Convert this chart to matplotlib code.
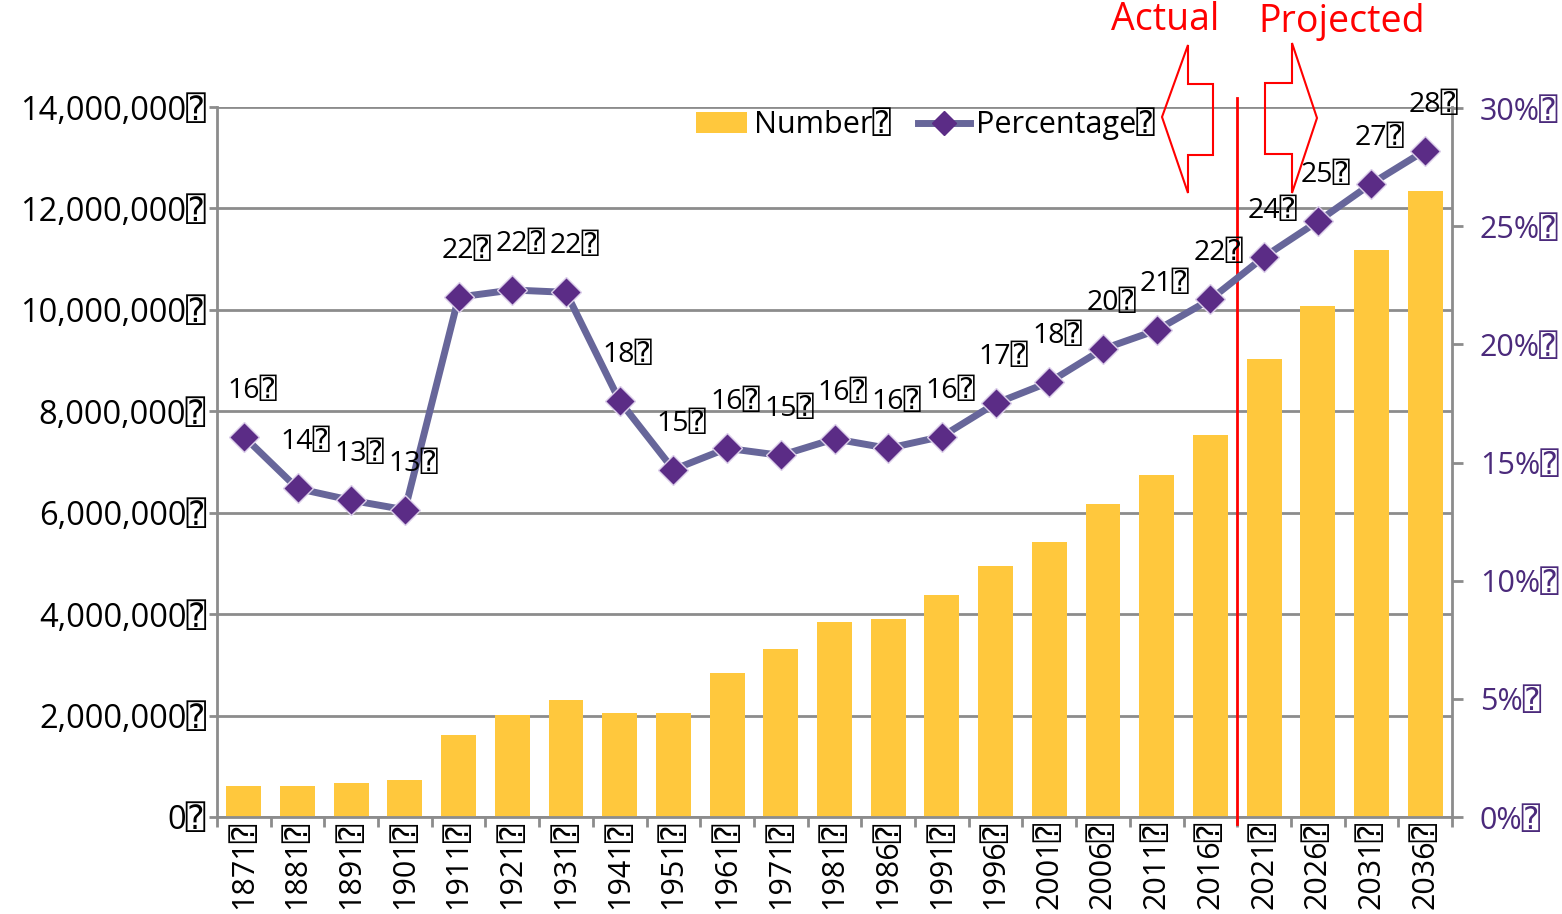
import matplotlib.pyplot as plt
import numpy as np
from matplotlib.lines import Line2D
from matplotlib.patches import Patch, Polygon

plt.rcParams['font.family'] = ['Open Sans', 'DejaVu Sans', 'DejaVu Sans Mono']

BOX = '\u2370'

years = ['1871', '1881', '1891', '1901', '1911', '1921', '1931', '1941', '1951',
         '1961', '1971', '1981', '1986', '1991', '1996', '2001', '2006', '2011',
         '2016', '2021', '2026', '2031', '2036']
numbers = [0.61e6, 0.61e6, 0.67e6, 0.73e6, 1.62e6, 2.01e6, 2.31e6, 2.05e6, 2.05e6,
           2.84e6, 3.31e6, 3.85e6, 3.90e6, 4.38e6, 4.95e6, 5.42e6, 6.17e6, 6.74e6,
           7.53e6, 9.03e6, 10.08e6, 11.18e6, 12.34e6]
percentages = [16.1, 13.9, 13.4, 13.0, 22.0, 22.3, 22.2, 17.6, 14.7,
               15.6, 15.3, 16.0, 15.6, 16.1, 17.5, 18.4, 19.8, 20.6,
               21.9, 23.7, 25.2, 26.8, 28.2]
pct_labels = ['16', '14', '13', '13', '22', '22', '22', '18', '15',
              '16', '15', '16', '16', '16', '17', '18', '20', '21',
              '22', '24', '25', '27', '28']
left_ticks = [0, 2e6, 4e6, 6e6, 8e6, 10e6, 12e6, 14e6]
right_ticks = [0, 5, 10, 15, 20, 25, 30]

bar_color = '#FFC83D'
line_color = '#67669A'
marker_color = '#5B2C86'
purple_text = '#4B2A7B'
axis_gray = '#8C8C8C'

W, H = 1562, 914
fig = plt.figure(figsize=(W / 100, H / 100), dpi=100)
ax = fig.add_axes([217 / W, (H - 817) / H, (1452 - 217) / W, (817 - 107) / H])

x = np.arange(len(years))
ax.bar(x, numbers, width=0.65, color=bar_color, zorder=2)
ax.set_xlim(-0.5, len(years) - 0.5)
ax.set_ylim(0, 14e6)
ax.set_yticks(left_ticks)
ax.set_yticklabels([f'{int(v):,}{BOX}' for v in left_ticks], fontsize=23.5)
ax.set_xticks(x)
ax.set_xticklabels([y + BOX for y in years], rotation=90, fontsize=22)
ax.set_xticks(np.arange(len(years) + 1) - 0.5, minor=True)
ax.tick_params(axis='x', which='major', length=0, pad=3)
ax.tick_params(axis='x', which='minor', length=7, width=2, color=axis_gray)
ax.tick_params(axis='y', length=6, width=2, color=axis_gray, pad=2)
ax.grid(axis='y', color=axis_gray, linewidth=2)
ax.set_axisbelow(True)
for s in ['top', 'right']:
    ax.spines[s].set_visible(False)
for s in ['left', 'bottom']:
    ax.spines[s].set_color(axis_gray)
    ax.spines[s].set_linewidth(2)

ax2 = ax.twinx()
ax2.plot(x, percentages, color=line_color, linewidth=5, marker='D', markersize=15,
         markerfacecolor=marker_color, markeredgecolor='#DCCFEA', markeredgewidth=1,
         zorder=3)
ax2.set_ylim(0, 30 * 710 / 709)
ax2.set_yticks(right_ticks)
ax2.set_yticklabels([f'{v}%{BOX}' for v in right_ticks], fontsize=22, color=purple_text)
ax2.tick_params(axis='y', length=8, width=2, color=axis_gray, pad=12)
for s in ['top', 'left', 'bottom']:
    ax2.spines[s].set_visible(False)
ax2.spines['right'].set_color(axis_gray)
ax2.spines['right'].set_linewidth(2)

for xi, p, lab in zip(x, percentages, pct_labels):
    ax2.annotate(lab + BOX, (xi, p), xytext=(8, 46), textcoords='offset pixels',
                 ha='center', va='center', fontsize=20.5)

# divider between actual and projected
ax2.axvline(18.5, ymin=-0.01, ymax=1.013, color='red', linewidth=2, clip_on=False)

# outline arrows
def px(pts):
    return [(a / W, 1 - b / H) for a, b in pts]

left_arrow = [(1162, 117), (1188, 45), (1188, 84), (1213, 84), (1213, 155),
              (1188, 155), (1188, 193)]
right_arrow = [(1317, 118), (1292, 43), (1292, 83), (1265, 83), (1265, 154),
               (1292, 154), (1292, 193)]
for pts in (left_arrow, right_arrow):
    fig.patches.append(Polygon(px(pts), closed=True, fill=False, edgecolor='red',
                               linewidth=1.5, transform=fig.transFigure))

fig.text(1165 / W, 1 - 20 / H, 'Actual', color='red', fontsize=27, ha='center', va='center')
fig.text(1342 / W, 1 - 22 / H, 'Projected', color='red', fontsize=27, ha='center', va='center')

handles = [Patch(facecolor=bar_color, edgecolor='none'),
           Line2D([0], [0], color=line_color, linewidth=5, marker='D', markersize=12,
                  markerfacecolor=marker_color, markeredgecolor=marker_color)]
fig.legend(handles, ['Number' + BOX, 'Percentage' + BOX], loc='center',
           bbox_to_anchor=(925 / W, 1 - 124 / H), ncol=2, frameon=False, fontsize=22,
           handlelength=1.7, handletextpad=0.2, columnspacing=0.9)

fig.savefig('out.png', dpi=100)
